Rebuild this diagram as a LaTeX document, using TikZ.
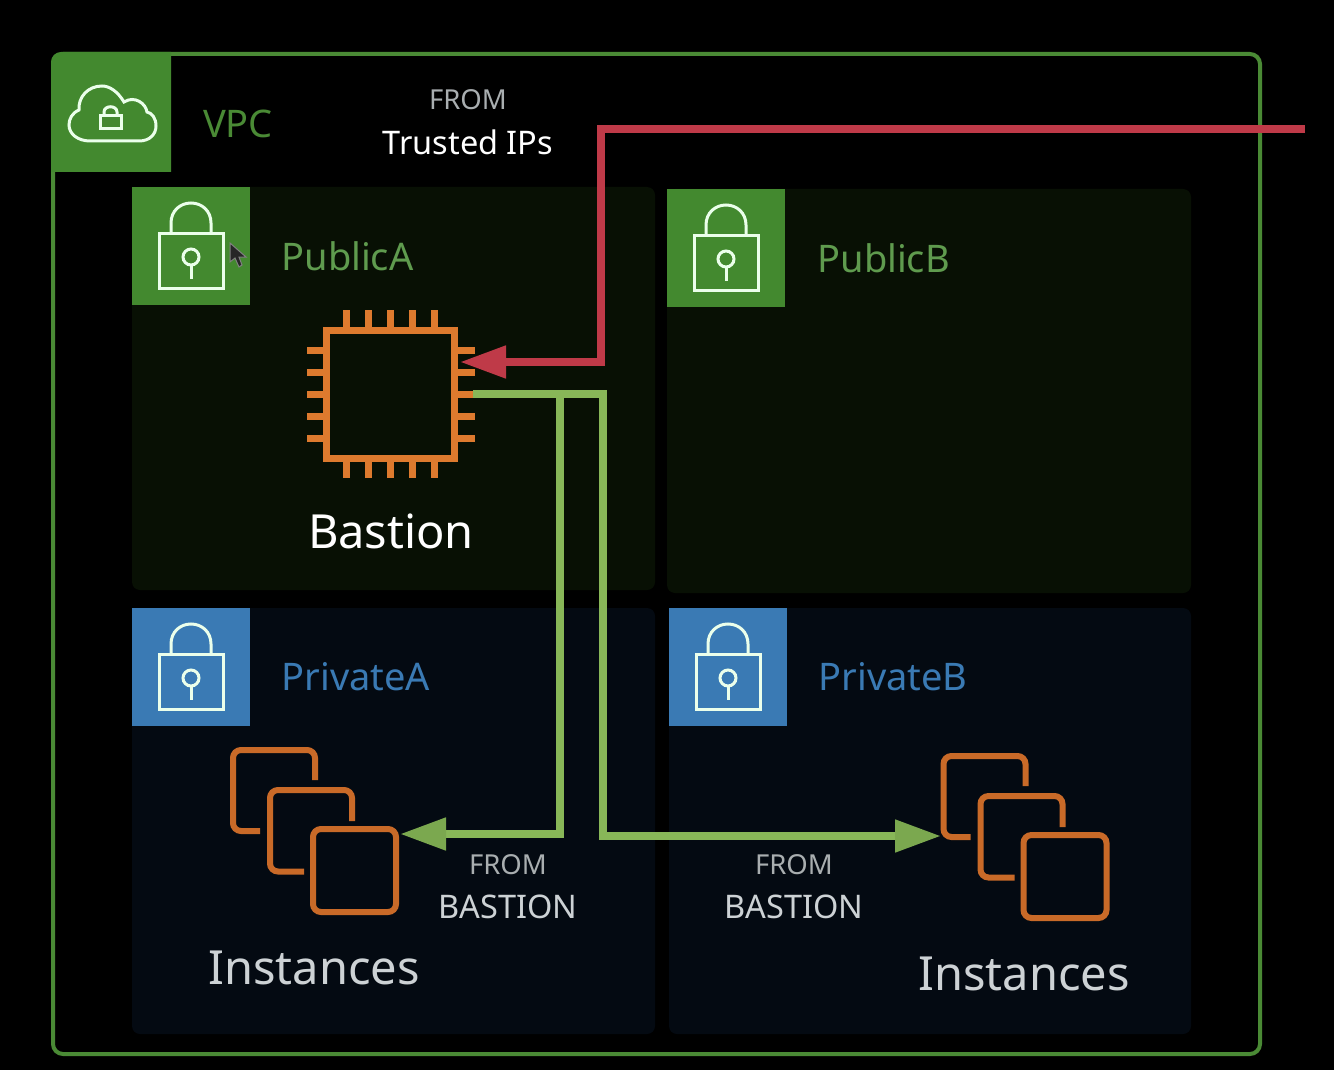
\documentclass[tikz,border=0pt]{standalone}
\usepackage{fontspec}
\setmainfont{Noto Sans}
\usetikzlibrary{arrows.meta}
\definecolor{vpcgreen}{HTML}{43892F}
\definecolor{vpctext}{HTML}{4A8A35}
\definecolor{subnetblue}{HTML}{3A7AB4}
\definecolor{publicbg}{HTML}{081004}
\definecolor{privatebg}{HTML}{040A12}
\definecolor{chiporange}{HTML}{DD7A2E}
\definecolor{stackorange}{HTML}{C96A28}
\definecolor{redline}{HTML}{BF3A48}
\definecolor{greenline}{HTML}{88B758}
\definecolor{greentip}{HTML}{7BA84F}
\definecolor{fromgrey}{HTML}{A9AEB0}
\definecolor{bastiongrey}{HTML}{CDD2D5}
\tikzset{
  subnet/.style={anchor=north west,inner sep=0pt,outer sep=0pt,rounded corners=8pt},
  header/.style={anchor=north west,inner sep=0pt,outer sep=0pt,minimum width=118pt,minimum height=118pt},
  iconline/.style={draw=white!92!green,line width=3pt},
  chippin/.style={draw=chiporange,line width=7pt},
  stackline/.style={draw=stackorange,line width=6pt,rounded corners=8pt},
  bastionline/.style={draw=greenline,line width=8pt,-{Triangle[length=46pt,width=31pt,color=greentip]}},
  trustedline/.style={draw=redline,line width=8pt,-{Triangle[length=46pt,width=31pt]}},
  nettext/.style={anchor=west,font=\fontsize{38}{38}\selectfont},
  fromtext/.style={font=\fontsize{27.5}{28}\selectfont,text=fromgrey},
  sourcetext/.style={font=\fontsize{32.5}{33}\selectfont,text=bastiongrey},
  bigtext/.style={font=\fontsize{47}{47}\selectfont},
  pics/lockicon/.style={code={
    \draw[iconline] (-32,-12.5) rectangle (32,42.5);
    \draw[iconline] (-20,-12.5) -- (-20,-23) .. controls (-20,-35) and (-11,-43) .. (0,-43)
      .. controls (11,-43) and (20,-35) .. (20,-23) -- (20,-12.5);
    \draw[iconline] (0,11) circle (8pt);
    \draw[iconline] (0,19) -- (0,33);
  }},
  pics/instancestack/.style={code={
    \draw[stackline] (-39.5,-90.5) -- (-39.5,-120.5) -- (-121.5,-120.5) -- (-121.5,-39.5) -- (-94.5,-39.5);
    \draw[stackline] (-2.5,-49.5) -- (-2.5,-80.5) -- (-84.5,-80.5) -- (-84.5,1) -- (-50.5,1);
    \draw[stackline] (-41.5,-41.5) rectangle (41.5,41.5);
  }}
}
\begin{document}
\begin{tikzpicture}[x=1pt,y=-1pt]
\useasboundingbox (0,0) rectangle (1334,1070);
\fill[black] (0,0) rectangle (1334,1070);

% subnets
\node[subnet,fill=publicbg,minimum width=523pt,minimum height=403pt] (publica) at (132,187) {};
\node[subnet,fill=publicbg,minimum width=524pt,minimum height=404pt] (publicb) at (667,189) {};
\node[subnet,fill=privatebg,minimum width=523pt,minimum height=426pt] (privatea) at (132,608) {};
\node[subnet,fill=privatebg,minimum width=522pt,minimum height=426pt] (privateb) at (669,608) {};

% vpc
\node[anchor=north west,inner sep=0pt,outer sep=0pt,draw=vpctext,line width=4pt,rounded corners=10pt,
  minimum width=1207pt,minimum height=1000pt] (vpc) at (53,54) {};
\fill[vpcgreen] (51,172) [rounded corners=10pt] -- (51,52) [sharp corners] -- (171,52) -- (171,172) -- cycle;
\draw[iconline] (90,141) -- (139,141) .. controls (150,141) and (156,134) .. (156,126)
  .. controls (156,118) and (152,113) .. (147,112) .. controls (146,104) and (135,95) .. (124,102)
  .. controls (118,92) and (110,86) .. (102,86) .. controls (88,86) and (78,97) .. (79,110)
  .. controls (72,113) and (69,119) .. (69,125) .. controls (69,134) and (78,141) .. (90,141);
\draw[iconline] (100,116) rectangle (121,129);
\draw[iconline] (104,116) -- (104,112) .. controls (104,105) and (117,105) .. (117,112) -- (117,116);
\node[nettext,anchor=center,text=vpctext] (vpclabel) at (238,124) {VPC};

% subnet headers
\node[header,fill=vpcgreen] (publicahead) at (publica.north west) {};
\node[header,fill=vpcgreen] (publicbhead) at (publicb.north west) {};
\node[header,fill=subnetblue] (privateahead) at (privatea.north west) {};
\node[header,fill=subnetblue] (privatebhead) at (privateb.north west) {};
\pic at (publicahead.center) {lockicon};
\pic at (publicbhead.center) {lockicon};
\pic at (privateahead.center) {lockicon};
\pic at (privatebhead.center) {lockicon};
\node[nettext,text=vpcgreen!85!white] (publicalabel) at (278,256) {PublicA};
\node[nettext,text=vpcgreen!85!white] (publicblabel) at (814,258) {PublicB};
\node[nettext,text=subnetblue] (privatealabel) at (278,677) {PrivateA};
\node[nettext,text=subnetblue] (privateblabel) at (815,677) {PrivateB};

% mouse pointer
\draw[draw=gray,fill=black!85,line width=1pt] (230,243) -- (230,262) -- (235,258) -- (239,267) -- (242,265) -- (239,257) -- (246,257) -- cycle;

% bastion
\node[draw=chiporange,line width=7pt,inner sep=0pt,outer sep=0pt,minimum size=128pt] (chip) at (390.5,394) {};
\foreach \pinpos in {-44,-22,0,22,44} {
  \draw[chippin] ([xshift=\pinpos pt]chip.north) -- ++(0,-20);
  \draw[chippin] ([xshift=\pinpos pt]chip.south) -- ++(0,20);
  \draw[chippin] ([yshift=\pinpos pt]chip.west) -- ++(-20,0);
  \draw[chippin] ([yshift=\pinpos pt]chip.east) -- ++(20,0);
}
\node[bigtext,text=white] (bastionlabel) at (391,531) {Bastion};

% instances
\pic at (354.5,870.5) {instancestack};
\pic at (1065,876.5) {instancestack};
\node[bigtext,text=bastiongrey] (instancesa) at (314,968) {Instances};
\node[bigtext,text=bastiongrey] (instancesb) at (1024,974) {Instances};

% connectors
\coordinate (trusted) at (1305,129);
\coordinate (redbend) at (601,362);
\coordinate (chipin) at (460,362);
\coordinate (chipout) at (473,394);
\coordinate (leftbend) at (560,394);
\coordinate (rightbend) at (603,394);
\coordinate (stackain) at (400,834);
\coordinate (stackbin) at (941,836);
\draw[bastionline] (leftbend) |- (stackain);
\draw[bastionline] (chipout) -- (rightbend) |- (stackbin);
\draw[trustedline] (trusted) -| (redbend) -- (chipin);

% labels
\node[fromtext] (fromtrusted) at (468,100) {FROM};
\node[font=\fontsize{32.5}{33}\selectfont,text=white] (trustedips) at (468,142) {Trusted IPs};
\node[fromtext] (froma) at (508,865) {FROM};
\node[sourcetext] (sourcea) at (508,907) {BASTION};
\node[fromtext] (fromb) at (794,865) {FROM};
\node[sourcetext] (sourceb) at (794,907) {BASTION};
\end{tikzpicture}
\end{document}
